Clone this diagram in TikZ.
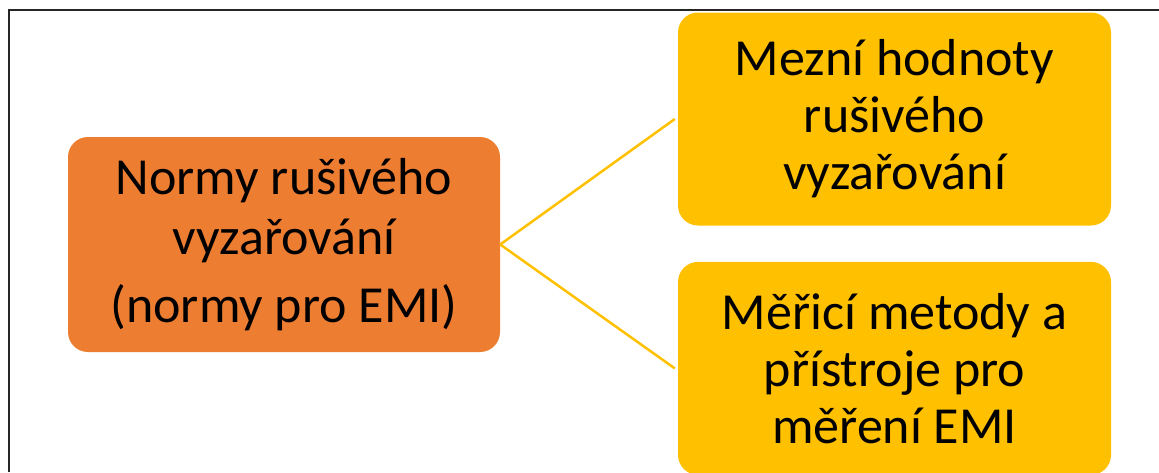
\documentclass[tikz,border=0pt]{standalone}
\usepackage{fontspec}
\setmainfont{Carlito}
\usetikzlibrary{positioning}
\definecolor{normcolor}{RGB}{237, 125, 49}
\definecolor{subcolor}{RGB}{255, 192, 0}

\begin{document}
\begin{tikzpicture}[
    x=1pt, y=1pt,
    box/.style={rectangle, rounded corners=20pt, align=center, text=black,
                font=\fontsize{52}{57}\selectfont},
    mainbox/.style={box, fill=normcolor, minimum width=432pt, minimum height=215pt,
                    font=\fontsize{52}{60}\selectfont},
    subbox/.style={box, fill=subcolor, minimum width=433pt, minimum height=213pt},
    link/.style={subcolor, line width=2.5pt}
]
\useasboundingbox (0,0) rectangle (1159,-472);

% Frame
\draw[line width=2pt, black!85] (8.5,-472) -- (8.5,-10) -- (1159,-10);

% Main topic
\node[mainbox] (norms) at (284,-244.5) {Normy rušivého\\vyzařování\\[8pt](normy pro EMI)};

% Subtopics
\node[subbox] (limits) at (894.5,-119) {Mezní hodnoty\\rušivého\\vyzařování};
\node[subbox, below=36pt of limits] (methods) {Měřicí metody a\\přístroje pro\\měření EMI};

% Connectors
\draw[link] (norms.east) -- ([xshift=-3pt]limits.west);
\draw[link] (norms.east) -- ([xshift=-3pt]methods.west);

\end{tikzpicture}
\end{document}
